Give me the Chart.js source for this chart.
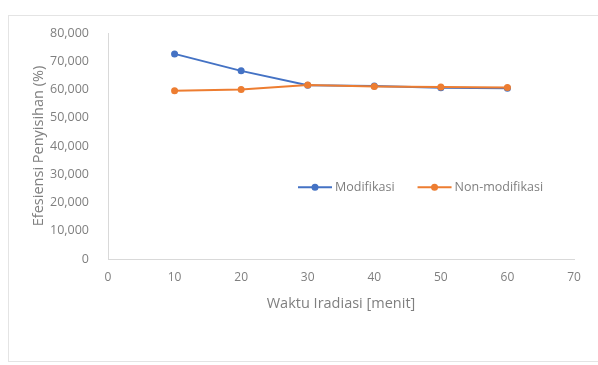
<!DOCTYPE html>
<html>
<head>
<meta charset="utf-8">
<script src="https://cdn.jsdelivr.net/npm/chart.js@4/dist/chart.umd.min.js"></script>
<style>
  html, body { margin: 0; padding: 0; background: #fff; }
  #wrap { position: absolute; left: 0; top: 0; width: 598px; height: 365px; }
</style>
</head>
<body>
<div id="wrap"><canvas id="c" width="598" height="365"></canvas></div>
<script>
// Irradiation time (minutes)
const waktu = [10, 20, 30, 40, 50, 60];
// Removal efficiency (%)
const modifikasi = [72600, 66600, 61500, 61200, 60600, 60400];
const nonModifikasi = [59600, 60000, 61600, 61100, 60900, 60700];
const seriesNames = ['Modifikasi', 'Non-modifikasi'];
const xTitle = 'Waktu Iradiasi [menit]';
const yTitle = 'Efesiensi Penyisihan (%)';

const BLUE = '#4472C4';
const ORANGE = '#ED7D31';
const TEXT = '#7f7f7f';
const FONT = '"Open Sans", "Liberation Sans", sans-serif';

function pts(vals) { return waktu.map((x, i) => ({ x: x, y: vals[i] })); }

// Outer frame of the chart object
const framePlugin = {
  id: 'frame',
  beforeDraw(chart) {
    const ctx = chart.ctx;
    ctx.save();
    ctx.strokeStyle = '#e4e4e4';
    ctx.lineWidth = 1;
    ctx.strokeRect(8.5, 15.5, 600, 346);
    ctx.restore();
  }
};

// Legend drawn inside the plot area
const legendPlugin = {
  id: 'innerLegend',
  afterDraw(chart) {
    const ctx = chart.ctx;
    const area = chart.chartArea;
    const y = area.top + (area.bottom - area.top) * 0.683;
    let x = 298;
    ctx.save();
    ctx.font = '12.5px ' + FONT;
    ctx.textBaseline = 'middle';
    chart.data.datasets.forEach((ds) => {
      ctx.strokeStyle = ds.borderColor;
      ctx.lineWidth = 2;
      ctx.beginPath();
      ctx.moveTo(x, y);
      ctx.lineTo(x + 34, y);
      ctx.stroke();
      ctx.fillStyle = ds.backgroundColor;
      ctx.beginPath();
      ctx.arc(x + 17, y, 3.5, 0, Math.PI * 2);
      ctx.fill();
      ctx.fillStyle = TEXT;
      ctx.textAlign = 'left';
      ctx.fillText(ds.label, x + 37, y);
      x += 37 + ctx.measureText(ds.label).width + 23;
    });
    ctx.restore();
  }
};

new Chart(document.getElementById('c'), {
  type: 'line',
  data: {
    datasets: [
      {
        label: seriesNames[0],
        data: pts(modifikasi),
        borderColor: BLUE,
        backgroundColor: BLUE,
        borderWidth: 2,
        pointRadius: 3.5,
        pointBorderWidth: 0,
        tension: 0,
        order: 1
      },
      {
        label: seriesNames[1],
        data: pts(nonModifikasi),
        borderColor: ORANGE,
        backgroundColor: ORANGE,
        borderWidth: 2,
        pointRadius: 3.5,
        pointBorderWidth: 0,
        tension: 0,
        order: 0
      }
    ]
  },
  options: {
    responsive: false,
    animation: false,
    devicePixelRatio: 1,
    layout: { padding: { left: 26, right: 24, top: 33, bottom: 48 } },
    plugins: {
      legend: { display: false },
      tooltip: { enabled: false }
    },
    scales: {
      x: {
        type: 'linear',
        min: 0,
        max: 70,
        ticks: { stepSize: 10, color: TEXT, font: { size: 12, family: FONT }, padding: 3 },
        grid: { display: false },
        border: { display: true, color: '#d9d9d9', width: 1 },
        title: { display: true, text: xTitle, color: TEXT, font: { size: 14.5, family: FONT }, padding: { top: 1 } },
        afterFit(scale) { scale.height = 58; }
      },
      y: {
        min: 0,
        max: 80000,
        ticks: {
          stepSize: 10000,
          color: TEXT,
          font: { size: 12.5, family: FONT },
          padding: 11,
          callback: (v) => v.toLocaleString('en-US')
        },
        grid: { display: false },
        border: { display: true, color: '#d9d9d9', width: 1 },
        title: { display: true, text: yTitle, color: TEXT, font: { size: 14.5, family: FONT }, padding: { bottom: 4 } },
        afterFit(scale) { scale.width = 82; }
      }
    }
  },
  plugins: [framePlugin, legendPlugin]
});
</script>
</body>
</html>
